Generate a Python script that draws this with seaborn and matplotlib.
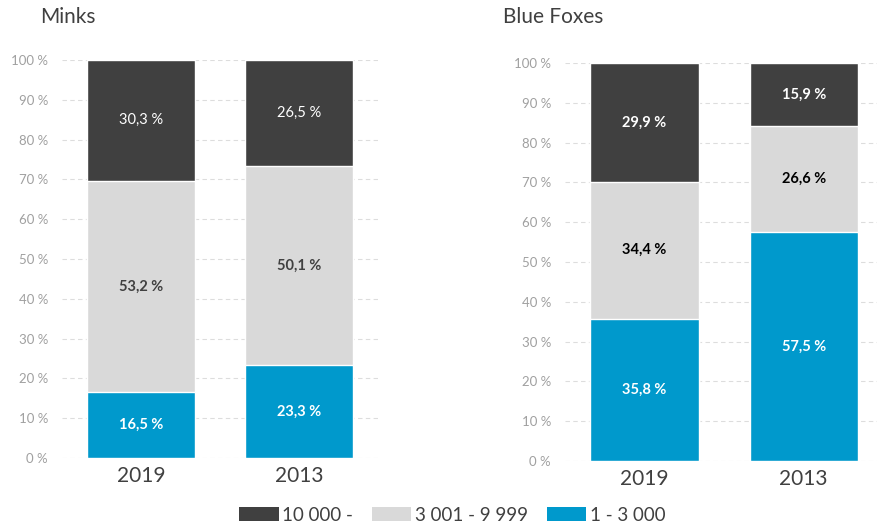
import numpy as np
import pandas as pd
import seaborn as sns
import matplotlib.pyplot as plt
from matplotlib.patches import Patch

years = ["2019", "2013"]
groups = ["10 000 -", "3 001 - 9 999", "1 - 3 000"]

minks_small = [16.5, 23.3]
minks_mid = [53.2, 50.1]
minks_big = [30.3, 26.5]

foxes_small = [35.8, 57.5]
foxes_mid = [34.4, 26.6]
foxes_big = [29.9, 15.9]

colors = {"10 000 -": "#404040", "3 001 - 9 999": "#d9d9d9", "1 - 3 000": "#0099cc"}

sns.set_theme(style="white")
plt.rcParams["font.family"] = ["Lato", "DejaVu Sans"]

fig = plt.figure(figsize=(8.77, 5.25), dpi=100)
ax1 = fig.add_axes([0.0707, 0.1276, 0.3603, 0.7581])
ax2 = fig.add_axes([0.644, 0.1219, 0.356, 0.7581])


def draw(ax, small, mid, big, bold_top, mid_color):
    df = pd.DataFrame({"year": years, "small": small, "mid": mid, "big": big})
    df["c_mid"] = df["small"] + df["mid"]
    df["c_big"] = (df["c_mid"] + df["big"]).clip(upper=100)

    ax.yaxis.grid(True, color="#dddddd", linestyle=(0, (4, 3)), linewidth=0.8)
    ax.set_axisbelow(True)

    sns.barplot(data=df, x="year", y="c_big", color=colors["10 000 -"], width=0.68,
                saturation=1, ax=ax, zorder=2)
    sns.barplot(data=df, x="year", y="c_mid", color=colors["3 001 - 9 999"], width=0.68,
                saturation=1, ax=ax, zorder=3)
    sns.barplot(data=df, x="year", y="small", color=colors["1 - 3 000"], width=0.68,
                saturation=1, ax=ax, zorder=4)

    fmt = lambda v: f"{v:.1f} %".replace(".", ",")
    for i, row in df.iterrows():
        ax.text(i, row["small"] / 2, fmt(row["small"]), ha="center", va="center",
                color="white", fontsize=10.5, fontweight="bold", zorder=5)
        ax.text(i, row["small"] + row["mid"] / 2, fmt(row["mid"]), ha="center", va="center",
                color=mid_color, fontsize=10.5, fontweight="bold", zorder=5)
        ax.text(i, (row["c_mid"] + row["c_big"]) / 2, fmt(row["big"]), ha="center", va="center",
                color="white", fontsize=10.5, fontweight="bold" if bold_top else "normal", zorder=5)

    ax.set_ylim(0, 100)
    ax.set_yticks(np.arange(0, 101, 10))
    ax.set_yticklabels([f"{v} %" for v in range(0, 101, 10)], color="#a0a0a0", fontsize=9.5)
    ax.tick_params(axis="x", labelsize=15, colors="#404040", length=0, pad=6)
    ax.tick_params(axis="y", length=0, pad=10)
    ax.set_xlabel("")
    ax.set_ylabel("")
    sns.despine(ax=ax, left=True, bottom=True)


draw(ax1, minks_small, minks_mid, minks_big, False, "#404040")
draw(ax2, foxes_small, foxes_mid, foxes_big, True, "black")
ax1.set_xlim(-0.5, 1.5)
ax2.set_xlim(-0.5, 1.46)

fig.text(40 / 877, 1 - 17 / 525, "Minks", fontsize=15, color="#404040", va="center")
fig.text(503 / 877, 1 - 17 / 525, "Blue Foxes", fontsize=15, color="#404040", va="center")

handles = [Patch(facecolor=colors[g], edgecolor="none") for g in groups]
fig.legend(handles, groups, loc="lower center", bbox_to_anchor=(0.516, -0.03), ncol=3,
           frameon=False, fontsize=13.5, handlelength=2.1, handleheight=0.75,
           handletextpad=0.2, columnspacing=1.0, labelcolor="#404040")

fig.savefig("out.png", dpi=100)
